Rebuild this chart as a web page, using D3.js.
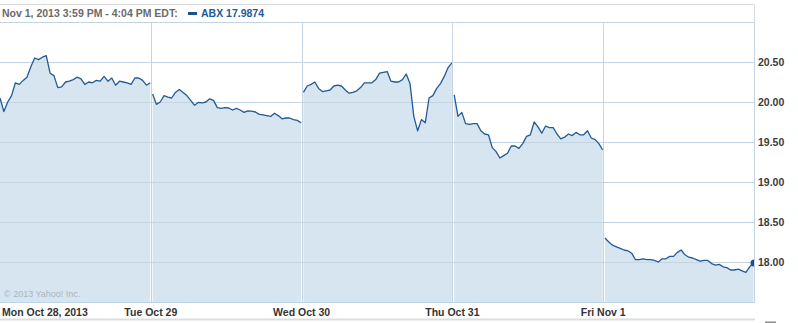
<!DOCTYPE html>
<html><head><meta charset="utf-8">
<script src="https://cdn.jsdelivr.net/npm/d3@7/dist/d3.min.js"></script>
<style>
html,body{margin:0;padding:0;background:#fff;}
svg{display:block;}
text{font-family:"Liberation Sans",Arial,sans-serif;}
</style></head>
<body>
<svg id="c" width="798" height="323"></svg>
<script>
const dayLabels = ["Mon Oct 28, 2013","Tue Oct 29","Wed Oct 30","Thu Oct 31","Fri Nov 1"];
const yTicks = [18.00, 18.50, 19.00, 19.50, 20.00, 20.50];
const day1 = [20.05,19.88,20.00,20.08,20.24,20.22,20.27,20.31,20.44,20.55,20.53,20.56,20.58,20.36,20.33,20.18,20.19,20.25,20.26,20.28,20.31,20.29,20.22,20.25,20.24,20.27,20.26,20.32,20.26,20.30,20.21,20.26,20.25,20.24,20.22,20.30,20.30,20.27,20.21,20.24];
const day2 = [20.10,19.97,20.00,20.08,20.06,20.05,20.12,20.155,20.12,20.08,20.02,19.96,19.995,19.99,20.00,20.04,20.02,19.93,19.92,19.93,19.925,19.90,19.92,19.90,19.87,19.89,19.885,19.875,19.845,19.84,19.83,19.82,19.86,19.83,19.79,19.80,19.80,19.78,19.77,19.74];
const day3 = [20.12,20.20,20.22,20.25,20.17,20.13,20.14,20.15,20.20,20.21,20.20,20.15,20.11,20.12,20.14,20.18,20.24,20.24,20.24,20.28,20.36,20.37,20.38,20.26,20.25,20.25,20.28,20.35,20.23,19.82,19.64,19.78,19.74,20.05,20.08,20.17,20.23,20.32,20.43,20.49];
const day4 = [20.09,19.82,19.87,19.73,19.72,19.73,19.73,19.64,19.60,19.59,19.43,19.38,19.30,19.33,19.36,19.45,19.45,19.42,19.48,19.57,19.59,19.75,19.69,19.61,19.70,19.68,19.68,19.60,19.54,19.56,19.60,19.58,19.62,19.59,19.59,19.64,19.55,19.53,19.48,19.40];
const day5 = [18.30,18.25,18.21,18.19,18.17,18.15,18.14,18.11,18.03,18.03,18.04,18.03,18.03,18.02,18.00,18.04,18.04,18.07,18.07,18.12,18.15,18.09,18.06,18.05,18.03,18.01,18.02,18.02,17.98,17.96,17.97,17.94,17.93,17.90,17.90,17.91,17.89,17.87,17.94,17.9874];
const days = [day1, day2, day3, day4, day5];
const titleText = "Nov 1, 2013 3:59 PM - 4:04 PM EDT:";
const legendText = "ABX 17.9874";
const lastValue = 17.9874;

const svg = d3.select("#c");
const L = 0, R = 754, T = 22, B = 302;
const x = d3.scaleLinear().domain([0, 5]).range([L, R]);
const y = d3.scaleLinear().domain([17.5, 21.0]).range([B, T]);

const fillC = "#d6e5f0", lineC = "#235a95", gridC = "#c4d5e1";

svg.append("defs").append("clipPath").attr("id","pc")
  .append("rect").attr("x",L).attr("y",T).attr("width",R-L).attr("height",B-T);

// title box
svg.append("path").attr("d",`M0,4.5H${R+0.5}V${T}`).attr("fill","none").attr("stroke","#dcdcdc");
svg.append("text").attr("x",2).attr("y",17).attr("font-size","10.5px").attr("font-weight","bold")
  .attr("fill","#6a6a6a").text(titleText);
svg.append("rect").attr("x",188).attr("y",12).attr("width",9).attr("height",3).attr("fill","#1d4f8a");
svg.append("text").attr("x",201).attr("y",17).attr("font-size","10.5px").attr("font-weight","bold")
  .attr("fill","#1d5a97").text(legendText);

const g = svg.append("g").attr("clip-path","url(#pc)");

// areas + lines per day
days.forEach((vals, d) => {
  const x0 = x(d) + (d > 0 ? 1.8 : 0), x1 = x(d+1) - 0.5;
  const n = vals.length;
  const px = i => x0 + (x1 - x0) * i / (n - 1);
  g.append("path").datum(vals)
    .attr("d", d3.area().x((v,i)=>px(i)).y0(B).y1(v=>y(v)))
    .attr("fill", fillC);
});

// horizontal gridlines
g.selectAll("line.h").data(yTicks).enter().append("line")
  .attr("x1",L).attr("x2",R)
  .attr("y1",v=>Math.round(y(v))+0.5).attr("y2",v=>Math.round(y(v))+0.5)
  .attr("stroke",gridC).attr("stroke-width",1);

// day separators
svg.selectAll("line.v").data([1,2,3,4]).enter().append("line")
  .attr("x1",d=>Math.round(x(d))+0.5).attr("x2",d=>Math.round(x(d))+0.5)
  .attr("y1",T).attr("y2",B)
  .attr("stroke",gridC).attr("stroke-width",1);

days.forEach((vals, d) => {
  const x0 = x(d) + (d > 0 ? 1.8 : 0), x1 = x(d+1) - 0.5;
  const n = vals.length;
  const px = i => x0 + (x1 - x0) * i / (n - 1);
  g.append("path").datum(vals)
    .attr("d", d3.line().x((v,i)=>px(i)).y(v=>y(v)))
    .attr("fill","none").attr("stroke",lineC).attr("stroke-width",1.3)
    .attr("stroke-linejoin","round");
});

// end marker
g.append("circle").attr("cx",x(5)).attr("cy",y(lastValue)).attr("r",3.5).attr("fill","#1d4f8a");

// plot frame
svg.append("line").attr("x1",L).attr("x2",R+0.5).attr("y1",T+0.5).attr("y2",T+0.5).attr("stroke",gridC);
svg.append("line").attr("x1",R+0.5).attr("x2",R+0.5).attr("y1",T).attr("y2",B+1).attr("stroke",gridC);
svg.append("line").attr("x1",L).attr("x2",R+0.5).attr("y1",B+0.5).attr("y2",B+0.5).attr("stroke","#bdd2e2");

// copyright
svg.append("text").attr("x",4).attr("y",297).attr("font-size","9px").attr("fill","#aab5bf")
  .text("\u00A9 2013 Yahoo! Inc.");

// y-axis labels
svg.selectAll("text.yl").data(yTicks).enter().append("text")
  .attr("x",758).attr("y",v=>y(v)+4)
  .attr("font-size","10.5px").attr("font-weight","bold").attr("fill","#3c3c3c")
  .text(v=>d3.format(".2f")(v));

// x-axis labels
svg.selectAll("text.xl").data(dayLabels).enter().append("text")
  .attr("x",(t,i)=> i===0 ? 2 : x(i))
  .attr("text-anchor",(t,i)=> i===0 ? "start" : "middle")
  .attr("y",315.5)
  .attr("font-size","10.5px").attr("font-weight","bold").attr("fill","#333")
  .text(t=>t);

// bottom bar
svg.append("rect").attr("x",0).attr("y",318.5).attr("width",R+1).attr("height",2).attr("fill","#dedede");
svg.append("rect").attr("x",765).attr("y",321.5).attr("width",11).attr("height",1.5).attr("fill","#8a8a8a");
</script>
</body></html>
